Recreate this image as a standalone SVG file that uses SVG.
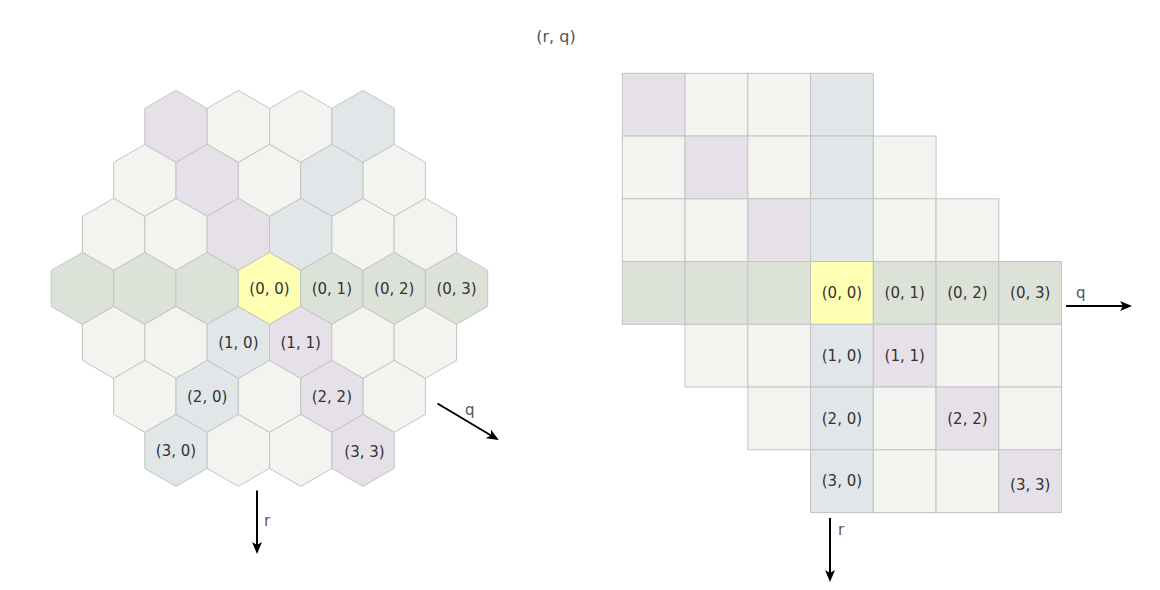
<svg xmlns="http://www.w3.org/2000/svg" xmlns:xlink="http://www.w3.org/1999/xlink" width="1160" height="590" viewBox="0 0 1160 590">
<style>
.c{stroke:#c4c4c4;stroke-width:1}
.l{fill:#f3f4f0}
.p{fill:#e6e1e8}
.b{fill:#e1e6e9}
.g{fill:#dde2d8}
.y{fill:#ffffb3}
.t{font-family:"DejaVu Sans",Verdana,sans-serif;font-size:15px;fill:#333;text-anchor:middle}
.ax{font-family:"DejaVu Sans",Verdana,sans-serif;font-size:15px;fill:#555}
.arr{stroke:#000;stroke-width:2;fill:none;marker-end:url(#ah)}
</style>
<defs>
<polygon id="hex" points="0,-36 31.18,-18 31.18,18 0,36 -31.18,18 -31.18,-18"/>
<rect id="sq" width="62.75" height="62.75"/>
<marker id="ah" viewBox="0 0 12 10" refX="10" refY="5" markerWidth="6" markerHeight="5" orient="auto" markerUnits="strokeWidth">
<path d="M0,0 L12,5 L0,10 L3,5 z" fill="#000"/>
</marker>
</defs>
<rect width="1160" height="590" fill="#fff"/>
<text class="ax" x="556" y="42" text-anchor="middle" style="font-size:16px">(r, q)</text>

<g id="hexgrid">
<g id="h-3-3"><use xlink:href="#hex" href="#hex" x="175.98" y="126.4" class="c p"/></g>
<g id="h-3-2"><use xlink:href="#hex" href="#hex" x="238.33" y="126.4" class="c l"/></g>
<g id="h-3-1"><use xlink:href="#hex" href="#hex" x="300.68" y="126.4" class="c l"/></g>
<g id="h-3_0"><use xlink:href="#hex" href="#hex" x="363.03" y="126.4" class="c b"/></g>

<g id="h-2-3"><use xlink:href="#hex" href="#hex" x="144.8" y="180.4" class="c l"/></g>
<g id="h-2-2"><use xlink:href="#hex" href="#hex" x="207.15" y="180.4" class="c p"/></g>
<g id="h-2-1"><use xlink:href="#hex" href="#hex" x="269.5" y="180.4" class="c l"/></g>
<g id="h-2_0"><use xlink:href="#hex" href="#hex" x="331.85" y="180.4" class="c b"/></g>
<g id="h-2_1"><use xlink:href="#hex" href="#hex" x="394.2" y="180.4" class="c l"/></g>

<g id="h-1-3"><use xlink:href="#hex" href="#hex" x="113.63" y="234.4" class="c l"/></g>
<g id="h-1-2"><use xlink:href="#hex" href="#hex" x="175.98" y="234.4" class="c l"/></g>
<g id="h-1-1"><use xlink:href="#hex" href="#hex" x="238.33" y="234.4" class="c p"/></g>
<g id="h-1_0"><use xlink:href="#hex" href="#hex" x="300.68" y="234.4" class="c b"/></g>
<g id="h-1_1"><use xlink:href="#hex" href="#hex" x="363.03" y="234.4" class="c l"/></g>
<g id="h-1_2"><use xlink:href="#hex" href="#hex" x="425.38" y="234.4" class="c l"/></g>

<g id="h0-3"><use xlink:href="#hex" href="#hex" x="82.45" y="288.4" class="c g"/></g>
<g id="h0-2"><use xlink:href="#hex" href="#hex" x="144.8" y="288.4" class="c g"/></g>
<g id="h0-1"><use xlink:href="#hex" href="#hex" x="207.15" y="288.4" class="c g"/></g>
<g id="h0_0"><use xlink:href="#hex" href="#hex" x="269.5" y="288.4" class="c y"/><text class="t" x="269.5" y="293.5">(0, 0)</text></g>
<g id="h0_1"><use xlink:href="#hex" href="#hex" x="331.85" y="288.4" class="c g"/><text class="t" x="331.85" y="293.5">(0, 1)</text></g>
<g id="h0_2"><use xlink:href="#hex" href="#hex" x="394.2" y="288.4" class="c g"/><text class="t" x="394.2" y="293.5">(0, 2)</text></g>
<g id="h0_3"><use xlink:href="#hex" href="#hex" x="456.55" y="288.4" class="c g"/><text class="t" x="456.55" y="293.5">(0, 3)</text></g>

<g id="h1-2"><use xlink:href="#hex" href="#hex" x="113.63" y="342.4" class="c l"/></g>
<g id="h1-1"><use xlink:href="#hex" href="#hex" x="175.98" y="342.4" class="c l"/></g>
<g id="h1_0"><use xlink:href="#hex" href="#hex" x="238.33" y="342.4" class="c b"/><text class="t" x="238.33" y="347.5">(1, 0)</text></g>
<g id="h1_1"><use xlink:href="#hex" href="#hex" x="300.68" y="342.4" class="c p"/><text class="t" x="300.68" y="347.5">(1, 1)</text></g>
<g id="h1_2"><use xlink:href="#hex" href="#hex" x="363.03" y="342.4" class="c l"/></g>
<g id="h1_3"><use xlink:href="#hex" href="#hex" x="425.38" y="342.4" class="c l"/></g>

<g id="h2-1"><use xlink:href="#hex" href="#hex" x="144.8" y="396.4" class="c l"/></g>
<g id="h2_0"><use xlink:href="#hex" href="#hex" x="207.15" y="396.4" class="c b"/><text class="t" x="207.15" y="401.5">(2, 0)</text></g>
<g id="h2_1"><use xlink:href="#hex" href="#hex" x="269.5" y="396.4" class="c l"/></g>
<g id="h2_2"><use xlink:href="#hex" href="#hex" x="331.85" y="396.4" class="c p"/><text class="t" x="331.85" y="401.5">(2, 2)</text></g>
<g id="h2_3"><use xlink:href="#hex" href="#hex" x="394.2" y="396.4" class="c l"/></g>

<g id="h3_0"><use xlink:href="#hex" href="#hex" x="175.98" y="450.4" class="c b"/><text class="t" x="175.98" y="455.5">(3, 0)</text></g>
<g id="h3_1"><use xlink:href="#hex" href="#hex" x="238.33" y="450.4" class="c l"/></g>
<g id="h3_2"><use xlink:href="#hex" href="#hex" x="300.68" y="450.4" class="c l"/></g>
<g id="h3_3"><use xlink:href="#hex" href="#hex" x="363.03" y="450.4" class="c p"/><text class="t" x="364.5" y="457">(3, 3)</text></g>
</g>

<g id="squaregrid">
<g id="s-3-3"><use xlink:href="#sq" href="#sq" x="622.3" y="73.3" class="c p"/></g>
<g id="s-3-2"><use xlink:href="#sq" href="#sq" x="685.05" y="73.3" class="c l"/></g>
<g id="s-3-1"><use xlink:href="#sq" href="#sq" x="747.8" y="73.3" class="c l"/></g>
<g id="s-3_0"><use xlink:href="#sq" href="#sq" x="810.55" y="73.3" class="c b"/></g>

<g id="s-2-3"><use xlink:href="#sq" href="#sq" x="622.3" y="136.05" class="c l"/></g>
<g id="s-2-2"><use xlink:href="#sq" href="#sq" x="685.05" y="136.05" class="c p"/></g>
<g id="s-2-1"><use xlink:href="#sq" href="#sq" x="747.8" y="136.05" class="c l"/></g>
<g id="s-2_0"><use xlink:href="#sq" href="#sq" x="810.55" y="136.05" class="c b"/></g>
<g id="s-2_1"><use xlink:href="#sq" href="#sq" x="873.3" y="136.05" class="c l"/></g>

<g id="s-1-3"><use xlink:href="#sq" href="#sq" x="622.3" y="198.8" class="c l"/></g>
<g id="s-1-2"><use xlink:href="#sq" href="#sq" x="685.05" y="198.8" class="c l"/></g>
<g id="s-1-1"><use xlink:href="#sq" href="#sq" x="747.8" y="198.8" class="c p"/></g>
<g id="s-1_0"><use xlink:href="#sq" href="#sq" x="810.55" y="198.8" class="c b"/></g>
<g id="s-1_1"><use xlink:href="#sq" href="#sq" x="873.3" y="198.8" class="c l"/></g>
<g id="s-1_2"><use xlink:href="#sq" href="#sq" x="936.05" y="198.8" class="c l"/></g>

<g id="s0-3"><use xlink:href="#sq" href="#sq" x="622.3" y="261.55" class="c g"/></g>
<g id="s0-2"><use xlink:href="#sq" href="#sq" x="685.05" y="261.55" class="c g"/></g>
<g id="s0-1"><use xlink:href="#sq" href="#sq" x="747.8" y="261.55" class="c g"/></g>
<g id="s0_0"><use xlink:href="#sq" href="#sq" x="810.55" y="261.55" class="c y"/><text class="t" x="841.9" y="298">(0, 0)</text></g>
<g id="s0_1"><use xlink:href="#sq" href="#sq" x="873.3" y="261.55" class="c g"/><text class="t" x="904.7" y="298">(0, 1)</text></g>
<g id="s0_2"><use xlink:href="#sq" href="#sq" x="936.05" y="261.55" class="c g"/><text class="t" x="967.4" y="298">(0, 2)</text></g>
<g id="s0_3"><use xlink:href="#sq" href="#sq" x="998.8" y="261.55" class="c g"/><text class="t" x="1030.2" y="298">(0, 3)</text></g>

<g id="s1-2"><use xlink:href="#sq" href="#sq" x="685.05" y="324.3" class="c l"/></g>
<g id="s1-1"><use xlink:href="#sq" href="#sq" x="747.8" y="324.3" class="c l"/></g>
<g id="s1_0"><use xlink:href="#sq" href="#sq" x="810.55" y="324.3" class="c b"/><text class="t" x="841.9" y="360.7">(1, 0)</text></g>
<g id="s1_1"><use xlink:href="#sq" href="#sq" x="873.3" y="324.3" class="c p"/><text class="t" x="904.7" y="360.7">(1, 1)</text></g>
<g id="s1_2"><use xlink:href="#sq" href="#sq" x="936.05" y="324.3" class="c l"/></g>
<g id="s1_3"><use xlink:href="#sq" href="#sq" x="998.8" y="324.3" class="c l"/></g>

<g id="s2-1"><use xlink:href="#sq" href="#sq" x="747.8" y="387.05" class="c l"/></g>
<g id="s2_0"><use xlink:href="#sq" href="#sq" x="810.55" y="387.05" class="c b"/><text class="t" x="841.9" y="423.5">(2, 0)</text></g>
<g id="s2_1"><use xlink:href="#sq" href="#sq" x="873.3" y="387.05" class="c l"/></g>
<g id="s2_2"><use xlink:href="#sq" href="#sq" x="936.05" y="387.05" class="c p"/><text class="t" x="967.4" y="423.5">(2, 2)</text></g>
<g id="s2_3"><use xlink:href="#sq" href="#sq" x="998.8" y="387.05" class="c l"/></g>

<g id="s3_0"><use xlink:href="#sq" href="#sq" x="810.55" y="449.8" class="c b"/><text class="t" x="841.9" y="486.2">(3, 0)</text></g>
<g id="s3_1"><use xlink:href="#sq" href="#sq" x="873.3" y="449.8" class="c l"/></g>
<g id="s3_2"><use xlink:href="#sq" href="#sq" x="936.05" y="449.8" class="c l"/></g>
<g id="s3_3"><use xlink:href="#sq" href="#sq" x="998.8" y="449.8" class="c p"/><text class="t" x="1030.2" y="490">(3, 3)</text></g>
</g>

<g id="connectors">
<line class="arr" x1="257" y1="490.5" x2="257" y2="552"/>
<text class="ax" x="264" y="526">r</text>
<line class="arr" x1="437.5" y1="403.5" x2="497" y2="439"/>
<text class="ax" x="465" y="415">q</text>
<line class="arr" x1="1066" y1="306" x2="1130" y2="306"/>
<text class="ax" x="1076" y="298">q</text>
<line class="arr" x1="830" y1="518" x2="830" y2="580"/>
<text class="ax" x="838" y="535">r</text>
</g>
</svg>
